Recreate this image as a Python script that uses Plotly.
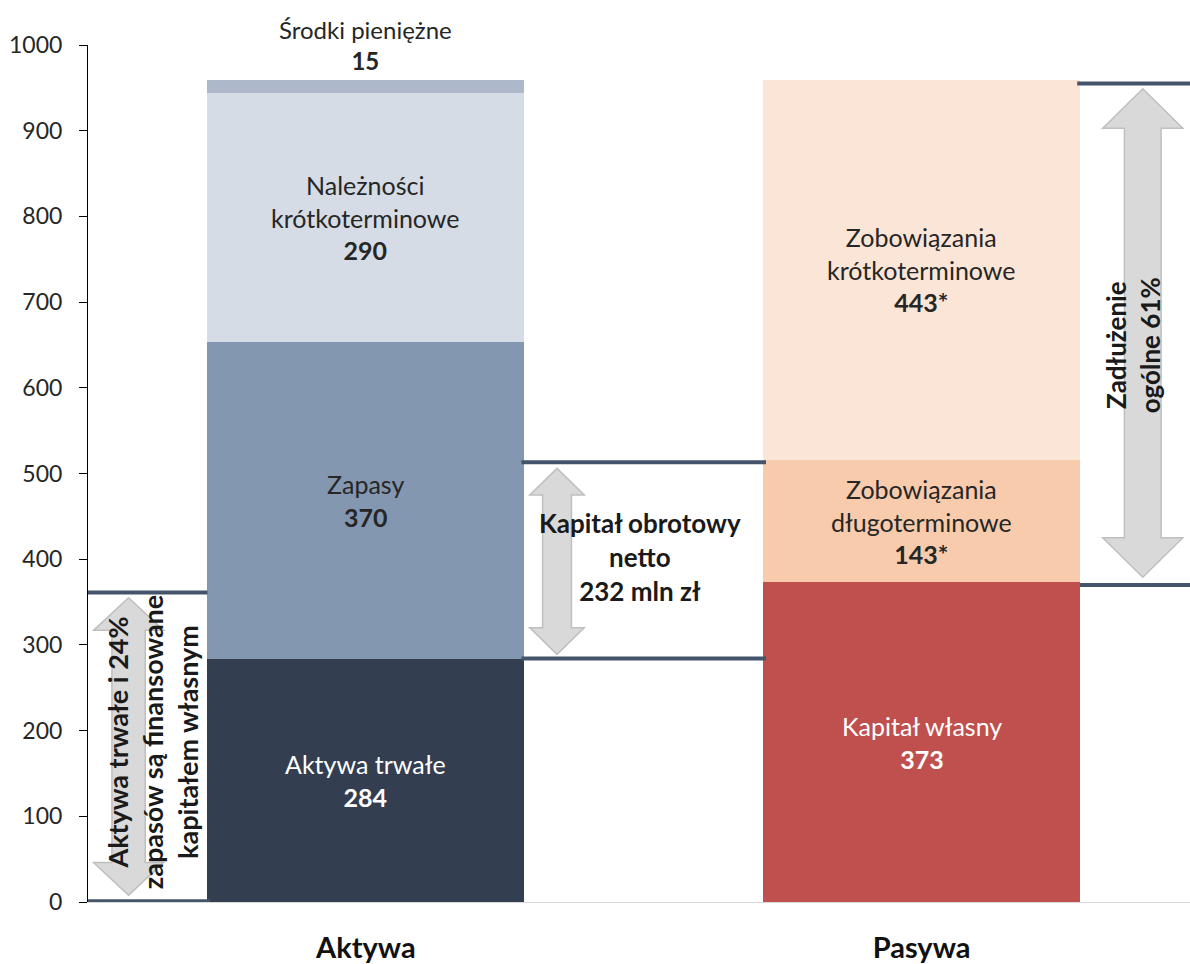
import plotly.graph_objects as go

# ---------------- data ----------------
categories = ["Aktywa", "Pasywa"]

aktywa_labels = ["Aktywa trwałe", "Zapasy", "Należności<br>krótkoterminowe", "Środki pieniężne"]
aktywa_values = [284, 370, 290, 15]
aktywa_suffix = ["", "", "", ""]

pasywa_labels = ["Kapitał własny", "Zobowiązania<br>długoterminowe", "Zobowiązania<br>krótkoterminowe"]
pasywa_values = [373, 143, 443]
pasywa_suffix = ["", "*", "*"]

# reference levels for the bracket lines
equity_fin_level = 361        # Aktywa trwałe i 24% zapasów
nwc_low, nwc_high = 284, 513  # Kapitał obrotowy netto 232 mln zł
debt_low, debt_high = 370, 955  # Zadłużenie ogólne 61%

# ---------------- styling ----------------
aktywa_colors = ["#333F50", "#8497B0", "#D6DCE5", "#ADB9CA"]
aktywa_text_colors = ["white", "#262626", "#262626", "#262626"]
pasywa_colors = ["#C0504D", "#F8CBAD", "#FBE5D6"]
pasywa_text_colors = ["white", "#262626", "#262626"]
LINE = "#44546A"
ARROW_FILL = "#D9D9D9"
ARROW_LINE = "#BFBFBF"
FONT = "Lato"
BAR_W = 0.57
LABEL_SIZE = 25
BOLD_SIZE = 26

fig = go.Figure()

annotations = []


def add_stack(xpos, labels, values, suffix, colors, tcolors, top_outside_last=False):
    base = 0
    for i, (lab, v, s, c, tc) in enumerate(zip(labels, values, suffix, colors, tcolors)):
        fig.add_trace(go.Bar(
            x=[xpos], y=[v], base=[base], width=BAR_W,
            marker=dict(color=c, line=dict(width=0)),
            name=lab.replace("<br>", " "), showlegend=False, hoverinfo="name+y",
        ))
        txt = f"{lab}<br><b>{v}{s}</b>"
        if top_outside_last and i == len(values) - 1:
            annotations.append(dict(
                x=xpos, y=base + v, xref="x", yref="y", text=txt, showarrow=False,
                yanchor="bottom", yshift=3, font=dict(family=FONT, size=LABEL_SIZE - 1, color="#262626"),
            ))
        else:
            annotations.append(dict(
                x=xpos, y=base + v / 2, xref="x", yref="y", text=txt, showarrow=False,
                font=dict(family=FONT, size=LABEL_SIZE, color=tc),
            ))
        base += v


add_stack(0, aktywa_labels, aktywa_values, aktywa_suffix, aktywa_colors, aktywa_text_colors, True)
add_stack(1, pasywa_labels, pasywa_values, pasywa_suffix, pasywa_colors, pasywa_text_colors)

shapes = []


def hline(x0, x1, y):
    shapes.append(dict(type="line", xref="x", yref="y", x0=x0, x1=x1, y0=y, y1=y,
                       line=dict(color=LINE, width=4), layer="above"))


def darrow(cx, ws, wh, y0, y1, hh):
    p = (f"M {cx},{y1} L {cx+wh},{y1-hh} L {cx+ws},{y1-hh} L {cx+ws},{y0+hh} "
         f"L {cx+wh},{y0+hh} L {cx},{y0} L {cx-wh},{y0+hh} L {cx-ws},{y0+hh} "
         f"L {cx-ws},{y1-hh} L {cx-wh},{y1-hh} Z")
    shapes.append(dict(type="path", xref="x", yref="y", path=p,
                       fillcolor=ARROW_FILL, line=dict(color=ARROW_LINE, width=1.5), layer="above"))


# left bracket
hline(-0.5, -0.285, equity_fin_level)
hline(-0.5, -0.28, 1)
darrow(-0.427, 0.030, 0.063, 8, equity_fin_level - 6, 38)
# middle bracket
hline(0.28, 0.72, nwc_high)
hline(0.28, 0.72, nwc_low)
darrow(0.344, 0.026, 0.049, nwc_low + 5, nwc_high - 7, 31)
# right bracket
hline(1.28, 1.49, debt_high)
hline(1.285, 1.49, debt_low)
darrow(1.398, 0.033, 0.072, debt_low + 9, debt_high - 6, 46)

bold = dict(family=FONT, size=BOLD_SIZE, color="#1a1a1a")
annotations.append(dict(x=0.494, y=402, xref="x", yref="y", showarrow=False,
                        text="<b>Kapitał obrotowy<br>netto<br>232 mln zł</b>", font=bold))
annotations.append(dict(x=-0.384, y=187, xref="x", yref="y", showarrow=False, textangle=-90,
                        text="<b>Aktywa trwałe i 24%<br>zapasów są finansowane<br>kapitałem własnym</b>",
                        font=dict(family=FONT, size=27, color="#1a1a1a")))
annotations.append(dict(x=1.381, y=650, xref="x", yref="y", showarrow=False, textangle=-90,
                        text="<b>Zadłużenie<br>ogólne 61%</b>", font=bold))

fig.update_layout(
    width=1190, height=964,
    margin=dict(l=88, r=0, t=45, b=62),
    plot_bgcolor="white", paper_bgcolor="white",
    barmode="overlay", bargap=0,
    shapes=shapes, annotations=annotations,
    font=dict(family=FONT, color="#262626"),
    xaxis=dict(range=[-0.5, 1.483], tickvals=[0, 1],
               ticktext=[f"<b>{c}</b>" for c in categories],
               tickfont=dict(family=FONT, size=29, color="#111111"),
               showline=True, linecolor="#D9D9D9", linewidth=1, ticks="",
               showgrid=False, zeroline=False, ticklabelstandoff=20, fixedrange=True),
    yaxis=dict(range=[0, 1000], tickvals=list(range(0, 1001, 100)),
               tickfont=dict(family=FONT, size=23, color="#262626"),
               showline=True, linecolor="black", linewidth=1, ticks="outside",
               ticklen=8, tickcolor="black", showgrid=False, zeroline=False,
               ticklabelstandoff=12, fixedrange=True),
)

fig.write_html(
    "out.html",
    config={"displayModeBar": False},
    post_script="document.body.style.margin='0';document.body.style.overflow='hidden';",
)
